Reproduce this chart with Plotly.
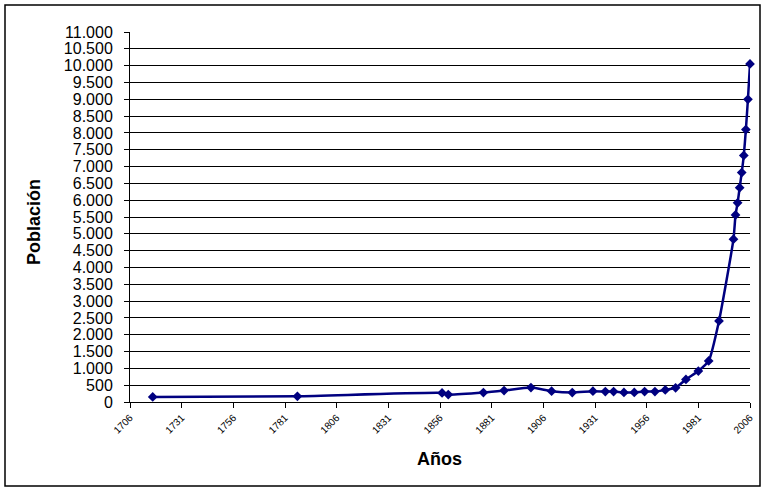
import plotly.graph_objects as go

# population by year
YEARS = [1717, 1787, 1857, 1860, 1877, 1887, 1900, 1910, 1920, 1930, 1936, 1940,
         1945, 1950, 1955, 1960, 1965, 1970, 1975, 1981, 1986, 1991,
         1998, 1999, 2000, 2001, 2002, 2003, 2004, 2005, 2006]
POBLACION = [150, 170, 270, 220, 280, 340, 430, 320, 280, 320, 310, 310,
             285, 285, 310, 310, 360, 420, 670, 920, 1220, 2410,
             4840, 5560, 5920, 6370, 6820, 7330, 8100, 9000, 10050]
X_TICKS = list(range(1706, 2007, 25))
Y_TICKS = list(range(0, 11001, 500))

W, H = 766, 492
L, R, T, B = 130, 16, 32, 90
pw, ph = W - L - R, H - T - B


def px_x(p):
    return (p - L) / pw


def px_y(p):
    return (H - B - p) / ph


fig = go.Figure()
# invisible trace so the gridline axis (y2) gets drawn
fig.add_trace(go.Scatter(
    x=YEARS[:1], y=POBLACION[:1], yaxis="y2", mode="markers",
    marker=dict(opacity=0), hoverinfo="skip", showlegend=False,
))
fig.add_trace(go.Scatter(
    x=YEARS, y=POBLACION, mode="lines+markers",
    line=dict(color="#000080", width=2.5, shape="spline", smoothing=0.5),
    marker=dict(symbol="diamond", size=7.5, color="#000080"),
    cliponaxis=False, showlegend=False,
))

axis_font = dict(family="Liberation Sans, Arial, sans-serif", color="black")
fig.update_xaxes(
    range=[1706, 2006], tickvals=X_TICKS, tickangle=-45,
    tickfont=dict(size=10, **axis_font),
    showline=True, linecolor="black", linewidth=1,
    ticks="outside", ticklen=5, tickcolor="black",
    showgrid=False, zeroline=False,
)
fig.update_yaxes(
    range=[0, 11000], tickvals=Y_TICKS, tickformat=",d",
    tickfont=dict(size=16, **axis_font), ticklabelstandoff=8,
    showline=True, linecolor="black", linewidth=1,
    ticks="outside", ticklen=5, tickcolor="black",
    showgrid=False, zeroline=False,
)
# gridlines without the top one at 11.000
fig.update_layout(yaxis2=dict(
    overlaying="y", anchor="x", side="left", range=[0, 11000], tickvals=Y_TICKS[:-1],
    showticklabels=False, ticks="", showgrid=True, gridcolor="black",
    gridwidth=1, zeroline=False, showline=False,
))

fig.add_annotation(text="<b>Años</b>", x=px_x(439), y=px_y(459), xref="paper", yref="paper",
                   xanchor="center", yanchor="middle",
                   showarrow=False, font=dict(size=18, **axis_font))
fig.add_annotation(text="<b>Población</b>", x=px_x(34), y=px_y(222), xref="paper", yref="paper",
                   xanchor="center", yanchor="middle",
                   showarrow=False, textangle=-90, font=dict(size=18, **axis_font))

# chart-area border
fig.add_shape(type="rect", xref="paper", yref="paper",
              x0=px_x(5), x1=px_x(760), y0=px_y(486), y1=px_y(5),
              line=dict(color="black", width=1.5))

fig.update_layout(
    width=W, height=H, autosize=False,
    margin=dict(l=L, r=R, t=T, b=B),
    paper_bgcolor="white", plot_bgcolor="white",
    separators=",.",
    font=axis_font,
)

fig.write_html("out.html", config={"displayModeBar": False},
               post_script="document.body.style.margin='0';")
